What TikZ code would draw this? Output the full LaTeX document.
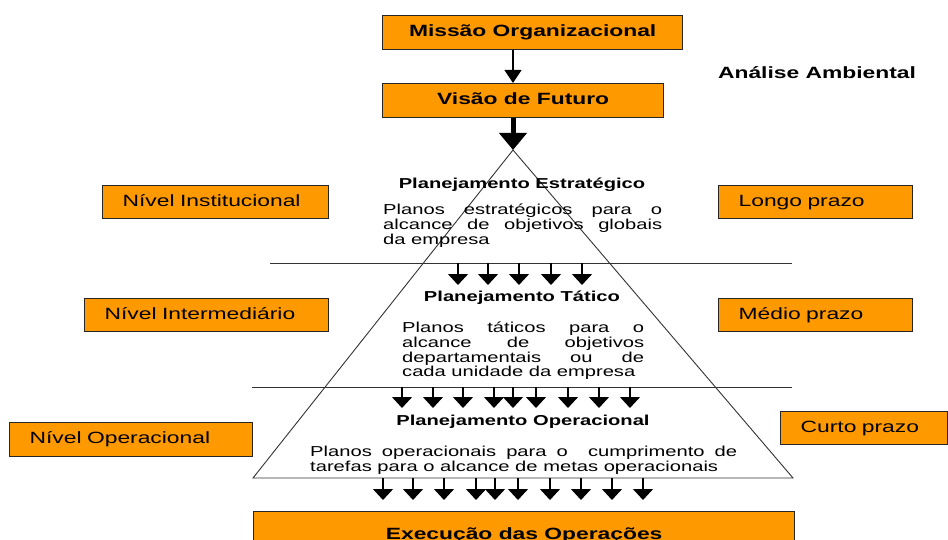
\documentclass[tikz,border=0pt]{standalone}
\usepackage{fontspec}
\setmainfont{Liberation Sans}[FakeStretch=1.4]
\usetikzlibrary{arrows.meta}

\definecolor{boxorange}{HTML}{FF9900}

\tikzset{
  box/.style={draw=black!85, line width=1.3pt, fill=boxorange, anchor=north west,
    inner sep=0pt, minimum width=#1, minimum height=34pt, text height=12pt, text depth=4pt},
  sidebox/.style={box=#1, minimum height=33pt, inner xsep=20pt, align=left,
    font=\fontsize{16.3}{18}\selectfont},
  title/.style={font=\fontsize{16.3}{18}\selectfont\bfseries},
  head/.style={font=\fontsize{14.4}{15}\selectfont\bfseries, inner sep=0pt},
  para/.style={font=\fontsize{14.4}{14.6}\selectfont, anchor=north west, inner sep=0pt, align=justify},
  level/.style={line width=0.9pt, draw=black!80},
  flow/.style={line width=1.2pt, -{Triangle[width=20pt,length=11pt]}}
}

\begin{document}
\begin{tikzpicture}[x=1pt,y=-1pt]
  \clip (0,0) rectangle (948,540);

  \node[box=300pt, title] (mission) at (382,15) {Missão Organizacional};
  \node[box=281pt, title] (vision) at (382,83) {Visão de Futuro};
  \node[title] (env) at (817,73) {Análise Ambiental};

  \coordinate (apex) at (513,150);
  \coordinate (bl) at (253,478);
  \coordinate (br) at (793,478);
  \draw[level] (apex) -- (bl) -- (br) -- cycle;
  \draw[level] (270,263) coordinate (l1a) -- (792,263) coordinate (l1b);
  \draw[level] (252,387) coordinate (l2a) -- (792,387) coordinate (l2b);

  \draw[line width=1.2pt, -{Triangle[width=17pt,length=13pt]}] (mission.south -| apex) -- (vision.north -| apex);
  \draw[line width=5pt, -{Triangle[width=27pt,length=17pt]}] (vision.south -| apex) -- (apex);

  \node[sidebox=226pt, text width=186pt] (inst) at (102,185) {Nível Institucional};
  \node[sidebox=244pt, text width=204pt] (inter) at (84,298) {Nível Intermediário};
  \node[sidebox=243pt, text width=203pt, minimum height=34pt] (oper) at (9,422) {Nível Operacional};
  \node[sidebox=194pt, text width=154pt] (longo) at (718,185) {Longo prazo};
  \node[sidebox=194pt, text width=154pt] (medio) at (718,298) {Médio prazo};
  \node[sidebox=167pt, text width=127pt] (curto) at (780,411) {Curto prazo};

  \node[head] (est) at (522,185) {Planejamento Estratégico};
  \node[para, text width=279pt] (pest) at (383,204)
    {Planos estratégicos para o\linebreak alcance de objetivos globais\linebreak da empresa};

  \foreach \x in {458,488,519,551,582}
    \draw[flow] (\x,263) -- (\x,285);

  \node[head] (tat) at (522,298) {Planejamento Tático};
  \node[para, text width=242pt] (ptat) at (402,322)
    {Planos táticos para o\linebreak alcance de objetivos\linebreak departamentais ou de\linebreak cada unidade da empresa};

  \foreach \x in {402,433,463,494,513,536,568,599,630}
    \draw[flow] (\x,387) -- (\x,408);

  \node[head] (ope) at (523,422) {Planejamento Operacional};
  \node[para, text width=427pt] (pope) at (310,446)
    {Planos operacionais para o\ \ cumprimento de\linebreak tarefas para o alcance de metas operacionais};

  \foreach \x in {383,413,444,476,495,518,550,581,612,643}
    \draw[flow] (\x,478) -- (\x,500);

  \node[box=541pt, title, minimum height=48pt] (exec) at (253,511) {Execução das Operações};
\end{tikzpicture}
\end{document}
